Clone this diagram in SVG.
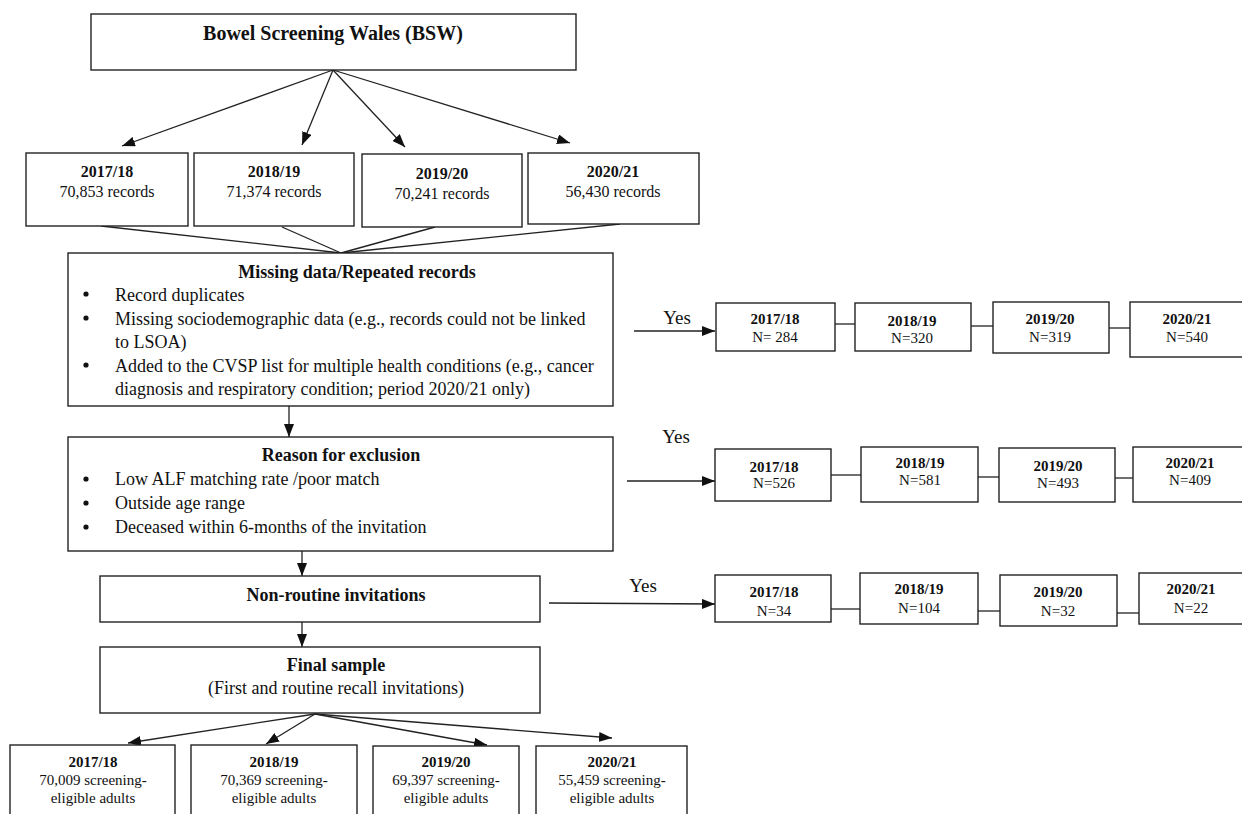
<svg xmlns="http://www.w3.org/2000/svg" width="1242" height="814" viewBox="0 0 1242 814">
<defs>
<style>
.bx{fill:#fff;stroke:#222;stroke-width:1.4}
.ln{fill:none;stroke:#222;stroke-width:1.3}
.ar{fill:none;stroke:#222;stroke-width:1.3;marker-end:url(#ah)}
text{font-family:"Liberation Serif","Times New Roman",serif;fill:#111}
.t20{font-size:20px;font-weight:bold;text-anchor:middle}
.h18{font-size:18px;font-weight:bold;text-anchor:middle}
.b18{font-size:18px}
.c18{font-size:18px;text-anchor:middle}
.y16{font-size:16px;font-weight:bold;text-anchor:middle}
.n16{font-size:16px;text-anchor:middle}
.y15{font-size:15px;font-weight:bold;text-anchor:middle}
.n15{font-size:15px;text-anchor:middle}
.ys{font-size:19px;text-anchor:middle}
</style>
<marker id="ah" viewBox="0 0 13 10" refX="13" refY="5" markerWidth="13" markerHeight="10" orient="auto" markerUnits="userSpaceOnUse"><path d="M0,0 L13,5 L0,10 z" fill="#111"/></marker>
</defs>
<rect width="1242" height="814" fill="#fff"/>

<g id="connectors">
<line class="ar" x1="333" y1="70" x2="122" y2="146"/>
<line class="ar" x1="333" y1="70" x2="302" y2="145"/>
<line class="ar" x1="333" y1="70" x2="405" y2="147"/>
<line class="ar" x1="333" y1="70" x2="570" y2="143"/>
<line class="ln" x1="101" y1="226" x2="341" y2="253"/>
<line class="ln" x1="282" y1="227" x2="341" y2="253"/>
<line class="ln" x1="435" y1="227" x2="341" y2="253"/>
<line class="ln" x1="620" y1="224" x2="341" y2="253"/>
<line class="ar" x1="289" y1="406" x2="289" y2="437"/>
<line class="ar" x1="302" y1="551" x2="302" y2="576"/>
<line class="ar" x1="302" y1="622" x2="302" y2="647"/>
<line class="ar" x1="315" y1="714" x2="128" y2="743"/>
<line class="ar" x1="315" y1="714" x2="266" y2="744"/>
<line class="ar" x1="315" y1="714" x2="487" y2="745"/>
<line class="ar" x1="315" y1="714" x2="612" y2="738"/>
<line class="ar" x1="634" y1="331" x2="715" y2="331"/>
<line class="ar" x1="627" y1="481" x2="715" y2="481"/>
<line class="ar" x1="549" y1="603" x2="715" y2="604"/>
<line class="ln" x1="835" y1="324" x2="855" y2="324"/>
<line class="ln" x1="971" y1="326" x2="993" y2="326"/>
<line class="ln" x1="1109" y1="328" x2="1130" y2="328"/>
<line class="ln" x1="831" y1="475" x2="861" y2="475"/>
<line class="ln" x1="978" y1="477" x2="999" y2="477"/>
<line class="ln" x1="1115" y1="478" x2="1133" y2="478"/>
<line class="ln" x1="831" y1="609" x2="860" y2="609"/>
<line class="ln" x1="978" y1="611" x2="1000" y2="611"/>
<line class="ln" x1="1117" y1="613" x2="1139" y2="613"/>
<text class="ys" x="677" y="324">Yes</text>
<text class="ys" x="676" y="443">Yes</text>
<text class="ys" x="643" y="592">Yes</text>
</g>

<g id="bsw">
<rect class="bx" x="91" y="14" width="485" height="56"/>
<text class="t20" x="333" y="40">Bowel Screening Wales (BSW)</text>
</g>

<g id="rec1718"><rect class="bx" x="26" y="153" width="162" height="73"/><text class="y16" x="107" y="177">2017/18</text><text class="n16" x="107" y="197">70,853 records</text></g>
<g id="rec1819"><rect class="bx" x="194" y="153" width="160" height="73"/><text class="y16" x="274" y="177">2018/19</text><text class="n16" x="274" y="197">71,374 records</text></g>
<g id="rec1920"><rect class="bx" x="362" y="154" width="160" height="73"/><text class="y16" x="442" y="179">2019/20</text><text class="n16" x="442" y="199">70,241 records</text></g>
<g id="rec2021"><rect class="bx" x="528" y="153" width="171" height="71"/><text class="y16" x="613" y="177">2020/21</text><text class="n16" x="613" y="197">56,430 records</text></g>

<g id="missing">
<rect class="bx" x="68" y="253" width="545" height="153"/>
<text class="h18" x="357" y="278">Missing data/Repeated records</text>
<circle cx="86" cy="294" r="2.6" fill="#111"/>
<text class="b18" x="115" y="301">Record duplicates</text>
<circle cx="86" cy="318" r="2.6" fill="#111"/>
<text class="b18" x="115" y="325">Missing sociodemographic data (e.g., records could not be linked</text>
<text class="b18" x="115" y="348">to LSOA)</text>
<circle cx="86" cy="365" r="2.6" fill="#111"/>
<text class="b18" x="115" y="372">Added to the CVSP list for multiple health conditions (e.g., cancer</text>
<text class="b18" x="115" y="395">diagnosis and respiratory condition; period 2020/21 only)</text>
</g>

<g id="reason">
<rect class="bx" x="68" y="437" width="545" height="114"/>
<text class="h18" x="341" y="461">Reason for exclusion</text>
<circle cx="86" cy="479" r="2.6" fill="#111"/>
<text class="b18" x="115" y="485">Low ALF matching rate /poor match</text>
<circle cx="86" cy="503" r="2.6" fill="#111"/>
<text class="b18" x="115" y="509">Outside age range</text>
<circle cx="86" cy="527" r="2.6" fill="#111"/>
<text class="b18" x="115" y="533">Deceased within 6-months of the invitation</text>
</g>

<g id="nonroutine">
<rect class="bx" x="100" y="576" width="440" height="46"/>
<text class="h18" x="336" y="601">Non-routine invitations</text>
</g>

<g id="final">
<rect class="bx" x="100" y="647" width="440" height="66"/>
<text class="h18" x="336" y="671">Final sample</text>
<text class="c18" x="336" y="694">(First and routine recall invitations)</text>
</g>

<g id="fin1718"><rect class="bx" x="10" y="745" width="165" height="75"/><text class="y15" x="93" y="767">2017/18</text><text class="n15" x="93" y="785">70,009 screening-</text><text class="n15" x="93" y="803">eligible adults</text></g>
<g id="fin1819"><rect class="bx" x="191" y="745" width="166" height="75"/><text class="y15" x="274" y="767">2018/19</text><text class="n15" x="274" y="785">70,369 screening-</text><text class="n15" x="274" y="803">eligible adults</text></g>
<g id="fin1920"><rect class="bx" x="373" y="746" width="146" height="75"/><text class="y15" x="446" y="767">2019/20</text><text class="n15" x="446" y="785">69,397 screening-</text><text class="n15" x="446" y="803">eligible adults</text></g>
<g id="fin2021"><rect class="bx" x="536" y="746" width="151" height="75"/><text class="y15" x="612" y="767">2020/21</text><text class="n15" x="612" y="785">55,459 screening-</text><text class="n15" x="612" y="803">eligible adults</text></g>

<g id="miss1718"><rect class="bx" x="716" y="303" width="119" height="48"/><text class="y15" x="775" y="324">2017/18</text><text class="n15" x="775" y="342">N= 284</text></g>
<g id="miss1819"><rect class="bx" x="855" y="303" width="116" height="48"/><text class="y15" x="912" y="326">2018/19</text><text class="n15" x="912" y="343">N=320</text></g>
<g id="miss1920"><rect class="bx" x="993" y="302" width="116" height="51"/><text class="y15" x="1050" y="324">2019/20</text><text class="n15" x="1050" y="342">N=319</text></g>
<g id="miss2021"><rect class="bx" x="1130" y="302" width="116" height="55"/><text class="y15" x="1187" y="324">2020/21</text><text class="n15" x="1187" y="342">N=540</text></g>

<g id="excl1718"><rect class="bx" x="715" y="449" width="116" height="52"/><text class="y15" x="774" y="472">2017/18</text><text class="n15" x="774" y="488">N=526</text></g>
<g id="excl1819"><rect class="bx" x="861" y="447" width="117" height="55"/><text class="y15" x="920" y="468">2018/19</text><text class="n15" x="920" y="485">N=581</text></g>
<g id="excl1920"><rect class="bx" x="999" y="448" width="116" height="54"/><text class="y15" x="1058" y="471">2019/20</text><text class="n15" x="1058" y="488">N=493</text></g>
<g id="excl2021"><rect class="bx" x="1133" y="447" width="116" height="55"/><text class="y15" x="1190" y="468">2020/21</text><text class="n15" x="1190" y="485">N=409</text></g>

<g id="nr1718"><rect class="bx" x="715" y="575" width="116" height="47"/><text class="y15" x="774" y="597">2017/18</text><text class="n15" x="774" y="616">N=34</text></g>
<g id="nr1819"><rect class="bx" x="860" y="573" width="118" height="51"/><text class="y15" x="919" y="594">2018/19</text><text class="n15" x="919" y="613">N=104</text></g>
<g id="nr1920"><rect class="bx" x="1000" y="575" width="117" height="51"/><text class="y15" x="1058" y="597">2019/20</text><text class="n15" x="1058" y="616">N=32</text></g>
<g id="nr2021"><rect class="bx" x="1139" y="573" width="110" height="51"/><text class="y15" x="1191" y="594">2020/21</text><text class="n15" x="1191" y="613">N=22</text></g>
</svg>
